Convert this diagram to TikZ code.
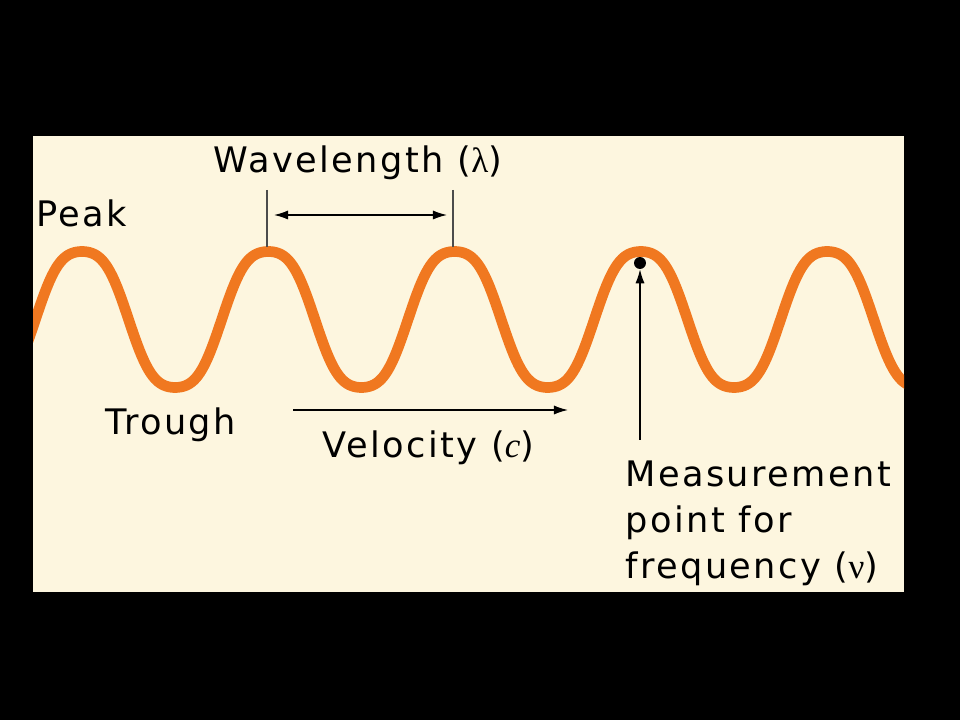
\documentclass[tikz,border=0pt]{standalone}
\usepackage{fontspec}
\setmainfont[LetterSpace=7]{DejaVu Sans}
\newfontfamily\grk{Liberation Serif}
\usetikzlibrary{positioning,arrows.meta}
\definecolor{cream}{HTML}{FDF6DF}
\definecolor{waveorange}{HTML}{F07820}

\begin{document}
\begin{tikzpicture}[x=0.025cm,y=-0.025cm,
  txt/.style={font=\fontsize{25}{32.7}\selectfont, inner sep=0pt, anchor=base west},
  wave/.style={waveorange, line width=7.6pt},
  tick/.style={black!70, line width=0.9pt},
  arr/.style={black, line width=1pt, -{Latex[length=10pt,width=6.5pt]}},
  dot/.style={circle, fill=black, inner sep=0pt, minimum size=8.5pt}]
\fill[black] (0,0) rectangle (960,720);
\fill[cream] (33,136) rectangle (904,592);

% the wave
\begin{scope}
\clip (33,136) rectangle (904,592);
\draw[wave] plot[domain=20:920, samples=400]
  (\x, {319.5 - 68*(cos((\x-82)/186.3*360) - 0.07*cos(3*(\x-82)/186.3*360))/0.93});
\end{scope}

% labels
\node[txt] (peak) at (36,227) {Peak};
\node[txt] (wavelen) at (213,173) {Wavelength ({\grk λ})};
\node[txt] (trough) at (105,435) {Trough};
\node[txt] (velocity) at (322,458) {Velocity ({\grk\itshape c})};
\node[txt, anchor=north west, align=left] (measure) at (625,461)
  {Measurement\\point for\\frequency ({\grk ν})};

% wavelength marks
\coordinate (t1) at (267,190);
\coordinate (b1) at (267,247);
\coordinate (t2) at (453,190);
\coordinate (b2) at (453,247);
\draw[tick] (t1) -- (b1);
\draw[tick] (t2) -- (b2);
\coordinate (la) at (274,215);
\coordinate (lb) at (447,215);
\draw[arr, {Latex[length=10pt,width=6.5pt]}-{Latex[length=10pt,width=6.5pt]}] (la) -- (lb);

% velocity
\coordinate (va) at (293,410);
\coordinate (vb) at (568,410);
\draw[arr] (va) -- (vb);

% measurement point
\node[dot] (mpt) at (640,263) {};
\coordinate (mbot) at (640,440);
\draw[arr] (mbot) -- (mpt.south);
\end{tikzpicture}
\end{document}
